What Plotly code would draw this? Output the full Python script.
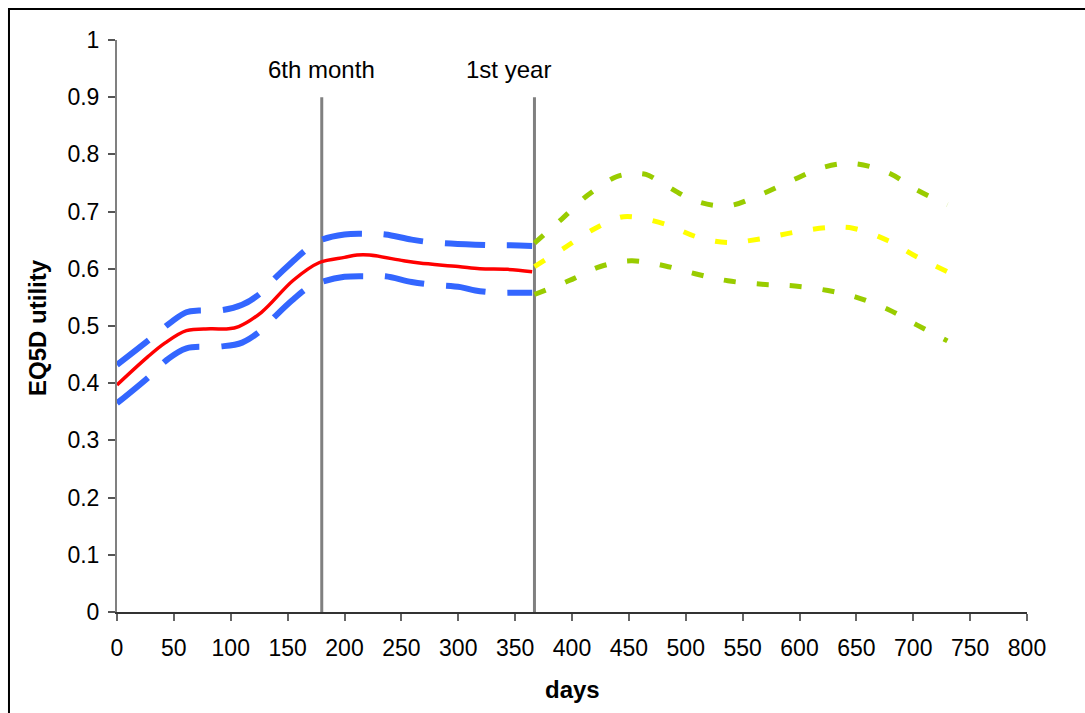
import plotly.graph_objects as go

# ---- data ----
red_x = [0, 27, 42, 61, 82, 98, 107, 127, 155, 178, 200, 211, 222, 252, 266, 300, 319, 343, 365]
red_y = [0.397, 0.446, 0.470, 0.492, 0.495, 0.495, 0.499, 0.524, 0.580, 0.611, 0.620, 0.624, 0.624,
         0.614, 0.610, 0.604, 0.600, 0.599, 0.595]

blue_up_x = [0, 29, 47, 61, 72, 90, 110, 126, 137, 154, 168, 179, 200, 222, 236, 259, 278, 315, 335, 346, 365]
blue_up_y = [0.432, 0.477, 0.506, 0.524, 0.527, 0.527, 0.537, 0.557, 0.580, 0.612, 0.636, 0.650, 0.660,
             0.661, 0.660, 0.651, 0.646, 0.642, 0.641, 0.641, 0.640]

blue_lo_x = [0, 28, 44, 61, 90, 110, 127, 139, 154, 168, 180, 200, 222, 236, 259, 278, 302, 315, 335, 346, 365]
blue_lo_y = [0.365, 0.411, 0.441, 0.461, 0.464, 0.471, 0.493, 0.517, 0.545, 0.567, 0.577, 0.586, 0.587,
             0.587, 0.577, 0.572, 0.568, 0.562, 0.558, 0.558, 0.558]

green_up_x = [367, 391, 414, 439, 452, 465, 480, 508, 537, 565, 594, 622, 647, 678, 703, 730]
green_up_y = [0.645, 0.687, 0.729, 0.761, 0.766, 0.765, 0.749, 0.719, 0.710, 0.729, 0.755, 0.778, 0.784,
              0.768, 0.738, 0.712]

yellow_x = [367, 392, 417, 442, 453, 482, 511, 537, 565, 596, 625, 647, 678, 703, 730]
yellow_y = [0.604, 0.635, 0.667, 0.690, 0.691, 0.678, 0.655, 0.646, 0.652, 0.664, 0.672, 0.671,
            0.649, 0.621, 0.595]

green_lo_x = [367, 397, 425, 452, 482, 511, 537, 567, 596, 625, 649, 678, 703, 730]
green_lo_y = [0.555, 0.579, 0.604, 0.614, 0.605, 0.590, 0.579, 0.573, 0.570, 0.562, 0.551, 0.529,
              0.502, 0.474]

marker_x = [180, 367]
marker_top = 0.9
marker_labels = ["6th month", "1st year"]
marker_label_x = [180, 344]
marker_label_y = 0.948

x_ticks = list(range(0, 801, 50))
y_ticks = [0, 0.1, 0.2, 0.3, 0.4, 0.5, 0.6, 0.7, 0.8, 0.9, 1]
y_tick_text = ["0", "0.1", "0.2", "0.3", "0.4", "0.5", "0.6", "0.7", "0.8", "0.9", "1"]

FONT = "Arial, 'Liberation Sans', sans-serif"

fig = go.Figure()

for mx in marker_x:
    fig.add_trace(go.Scatter(x=[mx, mx], y=[0, marker_top], mode="lines",
                             line=dict(color="#808080", width=3), hoverinfo="skip"))

blue = "#3366FF"
green = "#99CC00"
yellow = "#FFFF00"

fig.add_trace(go.Scatter(x=blue_up_x, y=blue_up_y, mode="lines", line_shape="spline",
                         line=dict(color=blue, width=6, dash="40px,22px")))
fig.add_trace(go.Scatter(x=blue_lo_x, y=blue_lo_y, mode="lines", line_shape="spline",
                         line=dict(color=blue, width=6, dash="40px,22px")))
fig.add_trace(go.Scatter(x=red_x, y=red_y, mode="lines", line_shape="spline",
                         line=dict(color="#FF0000", width=3.5)))
fig.add_trace(go.Scatter(x=green_up_x, y=green_up_y, mode="lines", line_shape="spline",
                         line=dict(color=green, width=5, dash="12px,21px")))
fig.add_trace(go.Scatter(x=yellow_x, y=yellow_y, mode="lines", line_shape="spline",
                         line=dict(color=yellow, width=5, dash="12px,21px")))
fig.add_trace(go.Scatter(x=green_lo_x, y=green_lo_y, mode="lines", line_shape="spline",
                         line=dict(color=green, width=5, dash="12px,21px")))

for lx, lab in zip(marker_label_x, marker_labels):
    fig.add_annotation(x=lx, y=marker_label_y, xref="x", yref="y", text=lab, showarrow=False,
                       xanchor="center", yanchor="middle",
                       font=dict(family=FONT, size=24, color="black"))

fig.add_annotation(x=-0.0866, y=0.497, xref="paper", yref="paper", text="<b>EQ5D utility</b>",
                   textangle=-90, showarrow=False, xanchor="center", yanchor="middle",
                   font=dict(family=FONT, size=24, color="black"))
fig.add_annotation(x=0.501, y=-0.136, xref="paper", yref="paper", text="<b>days</b>",
                   showarrow=False, xanchor="center", yanchor="middle",
                   font=dict(family=FONT, size=24, color="black"))

# outer frame
fig.add_shape(type="rect", xref="paper", yref="paper", x0=-0.1187, y0=-0.25, x1=1.1, y1=1.054,
              line=dict(color="black", width=2), layer="above")

fig.update_layout(
    width=1085, height=713,
    margin=dict(l=117, r=58, t=40, b=101),
    paper_bgcolor="white", plot_bgcolor="white",
    showlegend=False,
    font=dict(family=FONT, size=23, color="black"),
    xaxis=dict(range=[0, 800], tickvals=x_ticks, showgrid=False, zeroline=False,
               showline=True, linecolor="#333333", linewidth=1.5,
               ticks="outside", ticklen=7, tickcolor="#666666", tickwidth=1.5,
               ticklabelstandoff=8, tickfont=dict(family=FONT, size=23, color="black")),
    yaxis=dict(range=[0, 1], tickvals=y_ticks, ticktext=y_tick_text,
               showgrid=False, zeroline=False,
               showline=True, linecolor="#808080", linewidth=2,
               ticks="outside", ticklen=7, tickcolor="#555555", tickwidth=1.5,
               ticklabelstandoff=4, tickfont=dict(family=FONT, size=23, color="black")),
)

fig.write_html("out.html")
